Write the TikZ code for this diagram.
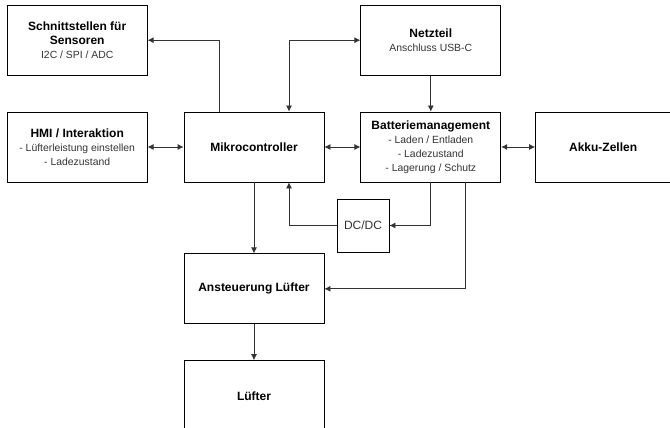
\documentclass[tikz,border=0pt]{standalone}
\usepackage{fontspec}
\setmainfont{Liberation Sans}
\usepackage{tikz}
\usetikzlibrary{positioning,arrows.meta}
\definecolor{linegray}{HTML}{333333}
\newcommand{\subline}[1]{{\fontsize{10.4}{13}\selectfont\color{linegray}#1}}
\tikzset{
  block/.style={draw,align=center,minimum width=140pt,minimum height=70pt,inner sep=2pt,
    line width=0.8pt,font=\fontsize{12}{14}\selectfont},
  small/.style={draw,align=center,minimum width=52pt,minimum height=53pt,inner sep=2pt,
    line width=0.8pt,font=\fontsize{12}{14}\selectfont\color{linegray}},
  arr/.style={-{Latex[length=6pt,width=6pt]},line width=0.8pt,draw=linegray},
  arrs/.style={{Latex[length=6pt,width=6pt]}-{Latex[length=6pt,width=6pt]},line width=0.8pt,draw=linegray},
}
\begin{document}
\begin{tikzpicture}[node distance=36pt]
\useasboundingbox (0pt,0pt) rectangle (670pt,-428pt);
\node[block] (mc) at (254pt,-147pt) {\textbf{Mikrocontroller}};
\node[block, left=36pt of mc] (hmi) {\textbf{HMI / Interaktion}\\\subline{- Lüfterleistung einstellen}\\\subline{- Ladezustand}};
\node[block, above=36pt of hmi] (sens) {\textbf{Schnittstellen für}\\\textbf{Sensoren}\\\subline{I2C / SPI / ADC}};
\node[block, right=36pt of mc] (bms) {\textbf{Batteriemanagement}\\\subline{- Laden / Entladen}\\\subline{- Ladezustand}\\\subline{- Lagerung / Schutz}};
\node[block, above=36pt of bms] (psu) {\textbf{Netzteil}\\\subline{Anschluss USB-C}};
\node[block, right=34pt of bms, minimum width=135pt] (akku) {\textbf{Akku-Zellen}};
\node[block, below=71pt of mc] (drv) {\textbf{Ansteuerung Lüfter}};
\node[block, below=36pt of drv, minimum height=72pt] (fan) {\textbf{Lüfter}};
\node[small] (dcdc) at (363pt,-225.5pt) {DC/DC};
% Verbindungen
\draw[arr] ([xshift=-35pt]mc.north) |- (sens.east);
\draw[arrs] ([xshift=35pt]mc.north) |- (psu.west);
\draw[arr] (psu) -- (bms);
\draw[arrs] (hmi) -- (mc);
\draw[arrs] (mc) -- (bms);
\draw[arrs] (bms) -- (akku);
\draw[arr] (mc) -- (drv);
\draw[arr] (bms.south) |- (dcdc.east);
\draw[arr] (dcdc.west) -| ([xshift=35pt]mc.south);
\draw[arr] ([xshift=35pt]bms.south) |- (drv.east);
\draw[arr] (drv) -- (fan);
\end{tikzpicture}
\end{document}
